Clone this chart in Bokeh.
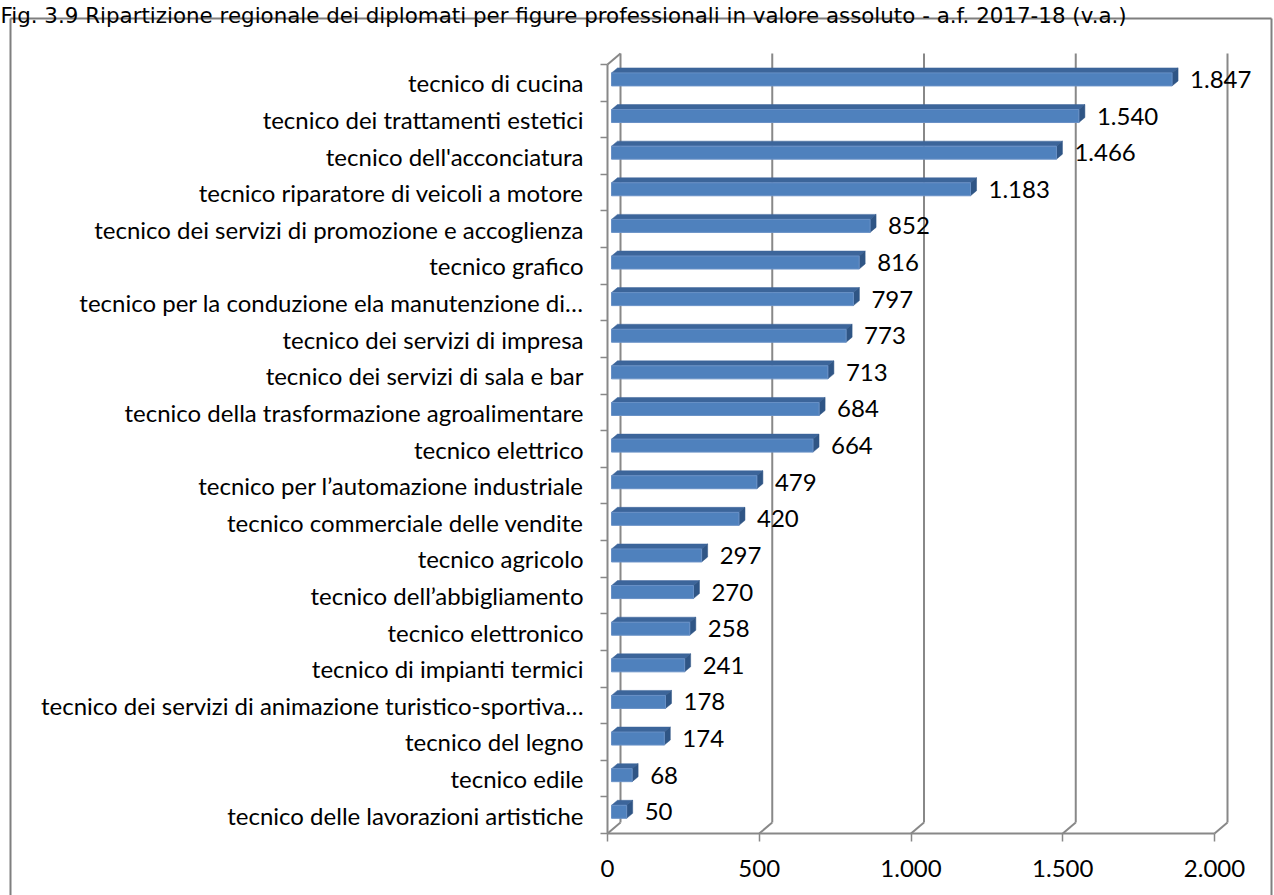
from bokeh.plotting import figure
from bokeh.models import Range1d, FixedTicker, ColumnDataSource
from bokeh.embed import file_html
from bokeh.resources import INLINE
from bokeh.core.properties import value

title_text = ("Fig. 3.9 Ripartizione regionale dei diplomati per figure professionali "
              "in valore assoluto - a.f. 2017-18 (v.a.)")

categories = [
    "tecnico di cucina",
    "tecnico dei trattamenti estetici",
    "tecnico dell'acconciatura",
    "tecnico riparatore di veicoli a motore",
    "tecnico dei servizi di promozione e accoglienza",
    "tecnico grafico",
    "tecnico per la conduzione ela manutenzione di…",
    "tecnico dei servizi di impresa",
    "tecnico dei servizi di sala e bar",
    "tecnico della trasformazione agroalimentare",
    "tecnico elettrico",
    "tecnico per l’automazione industriale",
    "tecnico commerciale delle vendite",
    "tecnico agricolo",
    "tecnico dell’abbigliamento",
    "tecnico elettronico",
    "tecnico di impianti termici",
    "tecnico dei servizi di animazione turistico-sportiva…",
    "tecnico del legno",
    "tecnico edile",
    "tecnico delle lavorazioni artistiche",
]
values = [1847, 1540, 1466, 1183, 852, 816, 797, 773, 713, 684, 664,
          479, 420, 297, 270, 258, 241, 178, 174, 68, 50]
x_ticks = [0, 500, 1000, 1500, 2000]

def it_fmt(v):
    return f"{v:,}".replace(",", ".")

FONT = "Lato"
FS = "24px"
GREY = "#888888"

# ---- geometry (pixels on the canvas) ----
W, H = 1274, 895
n = len(categories)
AX_LEFT, AX_RIGHT = 607, 1214     # front plane: x=0 and x=2000
AX_TOP, AX_BOTTOM = 64, 833       # front plane: top/bottom of category axis
ux = (x_ticks[-1] - x_ticks[0]) / (AX_RIGHT - AX_LEFT)
PX_PER_CAT = (AX_BOTTOM - AX_TOP) / n
uy = 1.0 / PX_PER_CAT
Y0 = -0.5
top_y = n - 0.5

def px_x(cx):
    return (cx - AX_LEFT) * ux

def px_y(cy):
    return Y0 + (AX_BOTTOM - cy) * uy

p = figure(width=W, height=H, output_backend="svg", toolbar_location=None,
           x_range=Range1d(px_x(0), px_x(W)), y_range=Range1d(px_y(H), px_y(0)),
           min_border_left=0, min_border_right=0,
           min_border_top=0, min_border_bottom=0)
p.outline_line_color = None
p.xgrid.visible = False
p.ygrid.visible = False
p.background_fill_color = "white"
p.border_fill_color = "white"

# ---- outer box (left, top, right) ----
BOX_L, BOX_T, BOX_R = 10, 18, 1271
p.segment(x0=[px_x(BOX_L), px_x(BOX_L), px_x(BOX_R)],
          y0=[px_y(H + 5), px_y(BOX_T), px_y(BOX_T)],
          x1=[px_x(BOX_L), px_x(BOX_R), px_x(BOX_R)],
          y1=[px_y(BOX_T), px_y(BOX_T), px_y(H + 5)],
          line_color="#7F7F7F", line_width=2)

# ---- title ----
p.text(x=[px_x(0)], y=[px_y(15)], text=[title_text], text_font=value("DejaVu Sans"),
       text_font_size="21.4px", text_baseline="alphabetic", text_align="left",
       text_color="black")

# ---- 3D walls / gridlines ----
WX, WY = 13, 11
gx0, gy0, gx1, gy1 = [], [], [], []
for t in x_ticks:
    gx0.append(t + WX * ux); gy0.append(Y0 + WY * uy)
    gx1.append(t + WX * ux); gy1.append(top_y + WY * uy)
    gx0.append(t); gy0.append(Y0)
    gx1.append(t + WX * ux); gy1.append(Y0 + WY * uy)
gx0.append(0); gy0.append(top_y)
gx1.append(WX * ux); gy1.append(top_y + WY * uy)
p.segment(x0=gx0, y0=gy0, x1=gx1, y1=gy1, line_color=GREY, line_width=2)

# ---- bars ----
FX, FY = 4, 3.4
DX, DY = 6, 5
HH = 6.5
yc = [n - 1 - i for i in range(n)]
left = [FX * ux] * n
right = [v + FX * ux for v in values]
bot = [y + (FY - HH) * uy for y in yc]
top = [y + (FY + HH) * uy for y in yc]

top_xs, top_ys, side_xs, side_ys = [], [], [], []
for l, r, b, t in zip(left, right, bot, top):
    top_xs.append([l, r, r + DX * ux, l + DX * ux])
    top_ys.append([t, t, t + DY * uy, t + DY * uy])
    side_xs.append([r, r + DX * ux, r + DX * ux, r])
    side_ys.append([b, b + DY * uy, t + DY * uy, t])

p.patches(xs=top_xs, ys=top_ys, fill_color="#3C659A", line_color="#3C659A", line_width=0.5)
p.patches(xs=side_xs, ys=side_ys, fill_color="#2F5585", line_color="#2F5585", line_width=0.5)
p.quad(left=left, right=right, bottom=bot, top=top,
       fill_color="#4F81BD", line_color="#6890C6", line_width=1)

# ---- value labels ----
src = ColumnDataSource(dict(
    x=[v + (FX + DX + 12) * ux for v in values],
    y=[y + FY * uy for y in yc],
    text=[it_fmt(v) for v in values]))
p.text(x="x", y="y", text="text", source=src, text_font=value(FONT),
       text_font_size=FS, text_baseline="middle", text_align="left",
       text_color="black")

# ---- axes (drawn at the front plane) ----
yax = p.yaxis[0]
yax.fixed_location = 0
yax.ticker = FixedTicker(ticks=yc, minor_ticks=[k - 0.5 for k in range(n + 1)])
yax.major_label_overrides = {yc[i]: categories[i] for i in range(n)}
yax.bounds = (Y0, top_y)
yax.major_tick_out = 0
yax.major_tick_in = 0
yax.minor_tick_out = 7
yax.minor_tick_in = 0
yax.minor_tick_line_color = GREY
yax.minor_tick_line_width = 1.5
yax.axis_line_color = GREY
yax.axis_line_width = 2
yax.major_label_standoff = 17
yax.major_label_text_font = FONT
yax.major_label_text_font_size = FS
yax.major_label_text_color = "black"

xax = p.xaxis[0]
xax.fixed_location = Y0
xax.ticker = FixedTicker(ticks=x_ticks)
xax.major_label_overrides = {t: it_fmt(t) for t in x_ticks}
xax.bounds = (x_ticks[0], x_ticks[-1])
xax.major_tick_out = 8
xax.major_tick_in = 0
xax.major_tick_line_color = GREY
xax.major_tick_line_width = 1.5
xax.minor_tick_out = 0
xax.minor_tick_in = 0
xax.axis_line_color = GREY
xax.axis_line_width = 2
xax.major_label_standoff = 18
xax.major_label_text_font = FONT
xax.major_label_text_font_size = FS
xax.major_label_text_color = "black"

open("out.html", "w").write(file_html(p, INLINE))
